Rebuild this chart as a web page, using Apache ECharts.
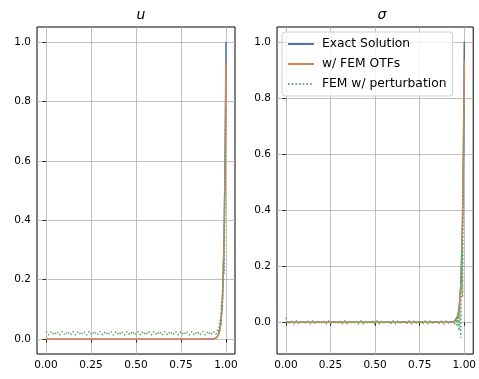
<!DOCTYPE html>
<html>
<head>
<meta charset="utf-8">
<script src="https://cdn.jsdelivr.net/npm/echarts@6/dist/echarts.min.js"></script>
<style>
  html, body { margin: 0; padding: 0; background: #fff; }
  #chart { width: 479px; height: 379px; }
</style>
</head>
<body>
<div id="chart"></div>
<script>
// Sample locations along the domain (denser inside the boundary layer)
const xs = [0, 0.015, 0.03, 0.045, 0.06, 0.075, 0.09, 0.105, 0.12, 0.135, 0.15, 0.165, 0.18, 0.195,
  0.21, 0.225, 0.24, 0.255, 0.27, 0.285, 0.3, 0.315, 0.33, 0.345, 0.36, 0.375, 0.39, 0.405, 0.42,
  0.435, 0.45, 0.465, 0.48, 0.495, 0.51, 0.525, 0.54, 0.555, 0.57, 0.585, 0.6, 0.615, 0.63, 0.645,
  0.66, 0.675, 0.69, 0.705, 0.72, 0.735, 0.75, 0.765, 0.78, 0.795, 0.81, 0.825, 0.84, 0.855, 0.87,
  0.885, 0.9, 0.915, 0.93, 0.945,
  0.955, 0.96, 0.965, 0.97, 0.975, 0.98, 0.985, 0.99, 0.995, 0.999, 1.0];

// u panel
const uExact = [0, 0, 0, 0, 0, 0, 0, 0, 0, 0, 0, 0, 0, 0, 0, 0, 0, 0, 0, 0, 0, 0, 0, 0, 0, 0, 0, 0, 0,
  0, 0, 0, 0, 0, 0, 0, 0, 0, 0, 0, 0, 0, 0, 0, 0, 0, 0, 0, 0, 0, 0, 0, 0, 0, 0, 0, 0, 0, 0, 0, 0.0001,
  0.0002, 0.001, 0.004,
  0.011, 0.018, 0.030, 0.050, 0.082, 0.135, 0.223, 0.368, 0.607, 0.905, 1.0];
const uOtf = [0, 0, 0, 0, 0, 0, 0, 0, 0, 0, 0, 0, 0, 0, 0, 0, 0, 0, 0, 0, 0, 0, 0, 0, 0, 0, 0, 0, 0,
  0, 0, 0, 0, 0, 0, 0, 0, 0, 0, 0, 0, 0, 0, 0, 0, 0, 0, 0, 0, 0, 0, 0, 0, 0, 0, 0, 0, 0, 0, 0, 0.0001,
  0.0002, 0.001, 0.004,
  0.011, 0.018, 0.030, 0.050, 0.080, 0.130, 0.215, 0.355, 0.580, 0.860, 0.930];
const uPert = [0.026, 0.014, 0.026, 0.014, 0.026, 0.014, 0.026, 0.014, 0.026, 0.014, 0.026, 0.014,
  0.026, 0.014, 0.026, 0.014, 0.026, 0.014, 0.026, 0.014, 0.026, 0.014, 0.026, 0.014, 0.026, 0.014,
  0.026, 0.014, 0.026, 0.014, 0.026, 0.014, 0.026, 0.014, 0.026, 0.014, 0.026, 0.014, 0.026, 0.014,
  0.026, 0.014, 0.026, 0.014, 0.026, 0.014, 0.026, 0.014, 0.026, 0.014, 0.026, 0.014, 0.026, 0.014,
  0.026, 0.014, 0.026, 0.014, 0.026, 0.014, 0.026, 0.014, 0.026, 0.016,
  0.035, 0.022, 0.065, 0.045, 0.125, 0.100, 0.260, 0.220, 0.550, 0.740, 0.780];

// sigma panel
const sExact = [0, 0, 0, 0, 0, 0, 0, 0, 0, 0, 0, 0, 0, 0, 0, 0, 0, 0, 0, 0, 0, 0, 0, 0, 0, 0, 0, 0, 0,
  0, 0, 0, 0, 0, 0, 0, 0, 0, 0, 0, 0, 0, 0, 0, 0, 0, 0, 0, 0, 0, 0, 0, 0, 0, 0, 0, 0, 0, 0, 0, 0.0001,
  0.0002, 0.001, 0.004,
  0.011, 0.018, 0.030, 0.050, 0.082, 0.135, 0.223, 0.368, 0.607, 0.905, 1.0];
const sOtf = [0, 0, 0, 0, 0, 0, 0, 0, 0, 0, 0, 0, 0, 0, 0, 0, 0, 0, 0, 0, 0, 0, 0, 0, 0, 0, 0, 0, 0,
  0, 0, 0, 0, 0, 0, 0, 0, 0, 0, 0, 0, 0, 0, 0, 0, 0, 0, 0, 0, 0, 0, 0, 0, 0, 0, 0, 0, 0, 0, 0, 0.0001,
  0.0003, 0.001, 0.003,
  0.008, 0.014, 0.025, 0.045, 0.075, 0.125, 0.210, 0.350, 0.575, 0.860, 0.930];
const sPert = [0.016, -0.006, 0.006, -0.006, 0.006, -0.006, 0.006, -0.006, 0.006, -0.006, 0.006,
  -0.006, 0.006, -0.006, 0.006, -0.006, 0.006, -0.006, 0.006, -0.006, 0.006, -0.006, 0.006, -0.006,
  0.006, -0.006, 0.006, -0.006, 0.006, -0.006, 0.006, -0.006, 0.006, -0.006, 0.006, -0.006, 0.006,
  -0.006, 0.006, -0.006, 0.006, -0.006, 0.006, -0.006, 0.006, -0.006, 0.006, -0.006, 0.006, -0.006,
  0.006, -0.006, 0.006, -0.006, 0.006, -0.006, 0.006, -0.006, 0.006, -0.006, 0.006, -0.006, 0.007,
  -0.007,
  0.012, -0.015, 0.030, -0.030, 0.060, -0.055, 0.260, 0.090, 0.500, 0.720, 0.770];

const xTicks = [0, 0.25, 0.5, 0.75, 1.0];
const yTicks = [0, 0.2, 0.4, 0.6, 0.8, 1.0];

const seriesNames = ['Exact Solution', 'w/ FEM OTFs', 'FEM w/ perturbation'];
const colors = ['#4C72B0', '#DD8452', '#55A868'];

const pairs = (ys) => xs.map((x, i) => [x, ys[i]]);

const tickFont = { fontFamily: 'DejaVu Sans', fontSize: 10.5, color: '#000' };

function xAxisFor(gridIndex) {
  return {
    type: 'value', gridIndex, min: -0.05, max: 1.05,
    axisLine: { show: false },
    axisTick: { show: true, length: 3.5, customValues: xTicks, lineStyle: { color: '#000', width: 0.8 } },
    axisLabel: Object.assign({ customValues: xTicks, margin: 6, formatter: v => v.toFixed(2) }, tickFont),
    splitLine: { show: true, lineStyle: { color: '#b0b0b0', width: 0.8 } }
  };
}
function yAxisFor(gridIndex, min, max) {
  return {
    type: 'value', gridIndex, min, max,
    axisLine: { show: false },
    axisTick: { show: true, length: 3.5, customValues: yTicks, lineStyle: { color: '#000', width: 0.8 } },
    axisLabel: Object.assign({ customValues: yTicks, margin: 6, formatter: v => v.toFixed(1) }, tickFont),
    splitLine: { show: true, lineStyle: { color: '#b0b0b0', width: 0.8 } }
  };
}

function lineSeries(name, idx, axisIdx, ys) {
  const s = {
    name, type: 'line', xAxisIndex: axisIdx, yAxisIndex: axisIdx,
    data: pairs(ys), symbol: 'none', animation: false,
    lineStyle: { color: colors[idx], width: 1.5 },
    itemStyle: { color: colors[idx] },
    z: 2 + idx
  };
  if (idx === 2) s.lineStyle.type = [1.5, 2.2];
  return s;
}

const chart = echarts.init(document.getElementById('chart'), null, { renderer: 'canvas' });
chart.setOption({
  animation: false,
  backgroundColor: '#fff',
  title: [
    { text: 'u', left: 136, top: 3, textAlign: 'center',
      textStyle: { fontFamily: 'DejaVu Sans', fontStyle: 'italic', fontWeight: 'normal', fontSize: 14, color: '#000' } },
    { text: 'σ', left: 377, top: 3, textAlign: 'center',
      textStyle: { fontFamily: 'DejaVu Sans', fontStyle: 'italic', fontWeight: 'normal', fontSize: 14, color: '#000' } }
  ],
  grid: [
    { left: 37, top: 27, width: 198, height: 327, show: true, borderColor: '#000', borderWidth: 1, backgroundColor: 'transparent' },
    { left: 277, top: 27, width: 199, height: 327, show: true, borderColor: '#000', borderWidth: 1, backgroundColor: 'transparent' }
  ],
  legend: {
    data: seriesNames,
    orient: 'vertical', left: 282, top: 32,
    itemWidth: 26, itemHeight: 10, itemGap: 8,
    padding: [6, 6, 6, 5],
    itemStyle: { opacity: 0 },
    backgroundColor: 'rgba(255,255,255,0.8)', borderColor: '#d0d0d0', borderWidth: 1, borderRadius: 3,
    textStyle: { fontFamily: 'DejaVu Sans', fontSize: 12.3, color: '#000', padding: [0, 0, 0, 3] }
  },
  xAxis: [xAxisFor(0), xAxisFor(1)],
  yAxis: [yAxisFor(0, -0.05, 1.05), yAxisFor(1, -0.113, 1.053)],
  series: [
    lineSeries(seriesNames[0], 0, 0, uExact),
    lineSeries(seriesNames[1], 1, 0, uOtf),
    lineSeries(seriesNames[2], 2, 0, uPert),
    lineSeries(seriesNames[0], 0, 1, sExact),
    lineSeries(seriesNames[1], 1, 1, sOtf),
    lineSeries(seriesNames[2], 2, 1, sPert)
  ]
});
</script>
</body>
</html>
